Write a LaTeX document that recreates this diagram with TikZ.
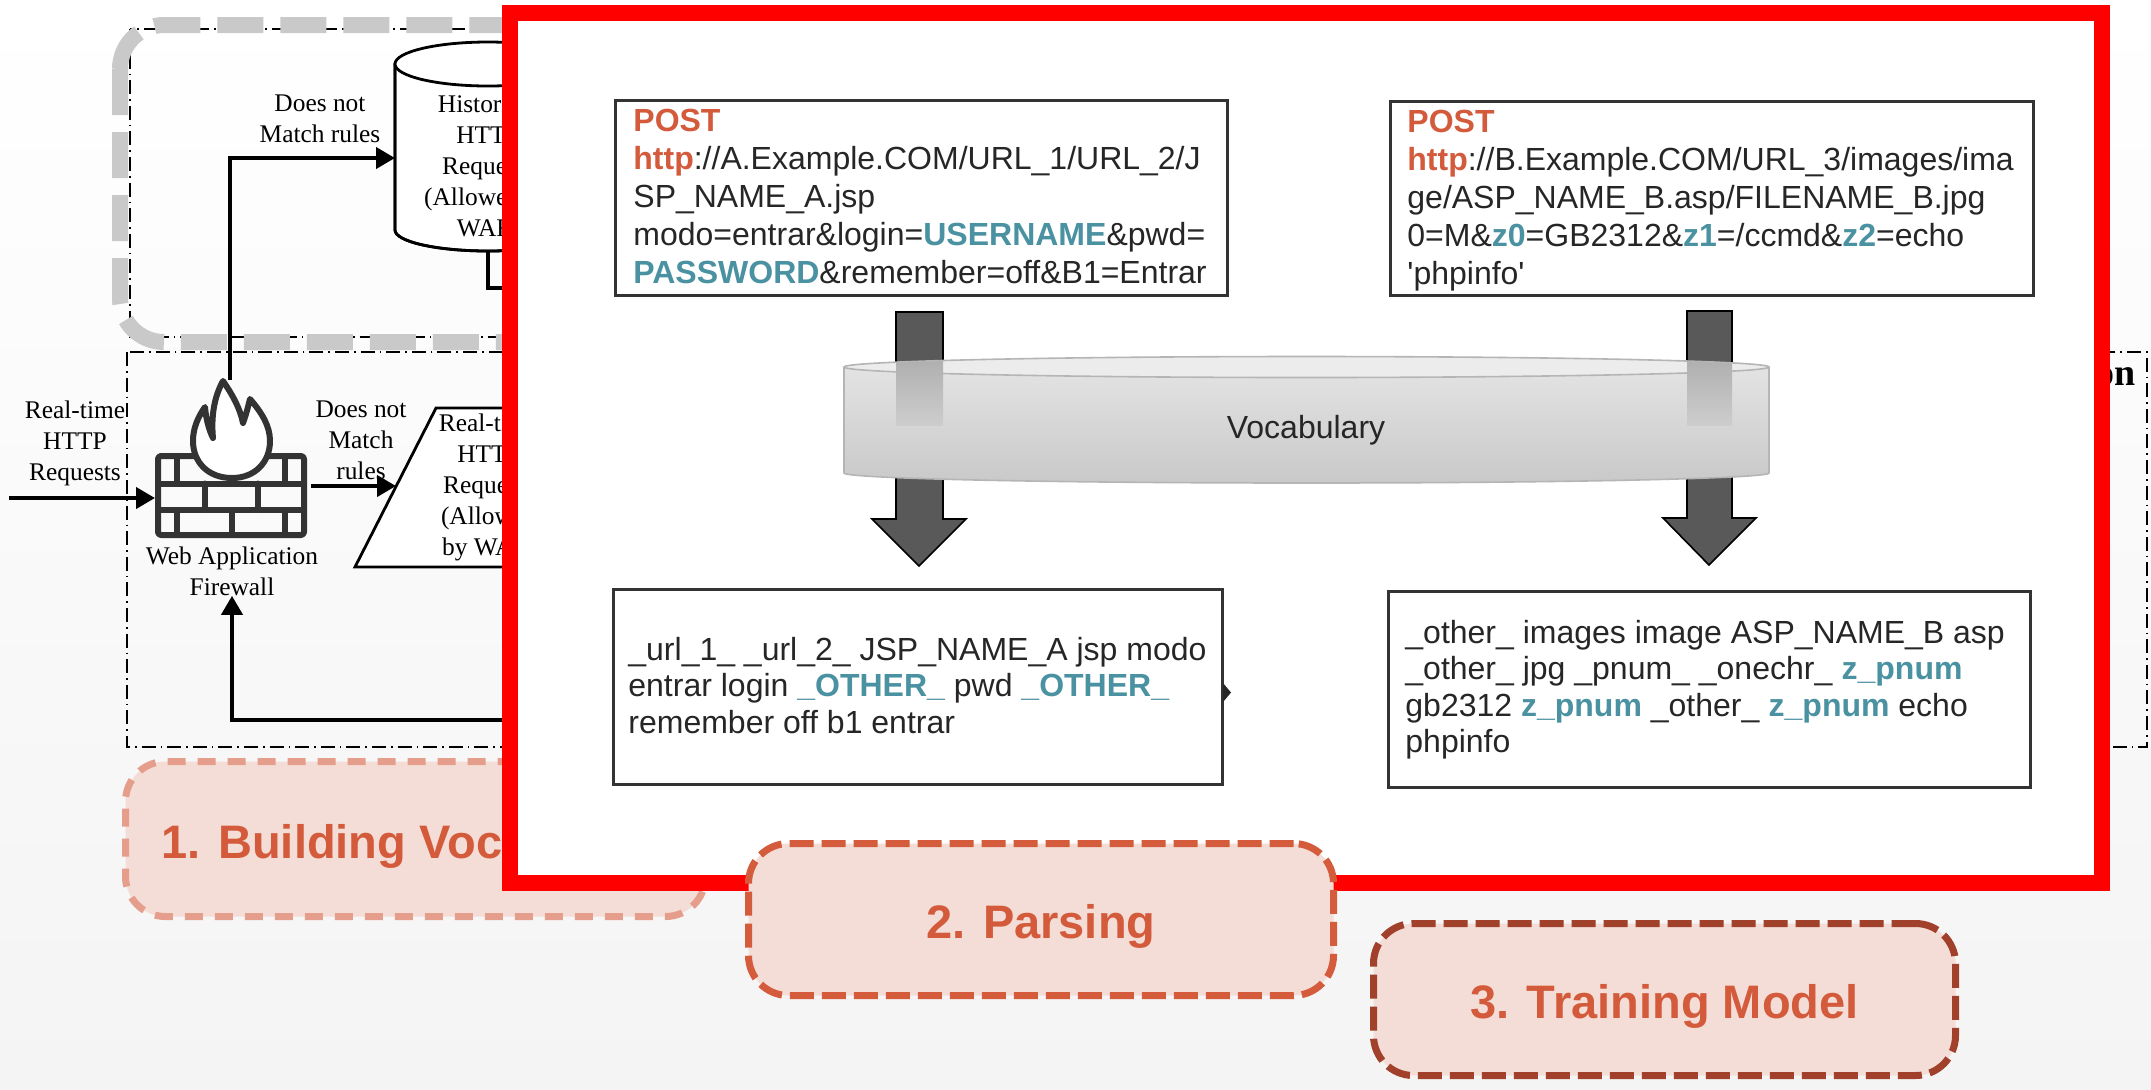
\documentclass[tikz,border=0pt]{standalone}
\usepackage{fontspec}
\setmainfont{Liberation Serif}
\newfontfamily\arialf{Liberation Sans}
\usetikzlibrary{arrows.meta}
\definecolor{bgc}{HTML}{F4F4F4}
\definecolor{graydash}{HTML}{C9C9C9}
\definecolor{fwgray}{HTML}{333333}
\definecolor{boxgray}{HTML}{333333}
\definecolor{txt}{HTML}{262626}
\definecolor{orng}{HTML}{D35B3B}
\definecolor{tealc}{HTML}{4A91A1}
\definecolor{arrowgray}{HTML}{595959}
\definecolor{pinkfill}{HTML}{F4DDD6}
\definecolor{pinkb1}{HTML}{E59E8C}
\definecolor{pinkb2}{HTML}{D45C3C}
\definecolor{pinkb3}{HTML}{A1402B}
\definecolor{cylA}{HTML}{E3E3E3}
\definecolor{cylM}{HTML}{CDCDCD}
\definecolor{cylB}{HTML}{C9C9C9}
\definecolor{cyltop}{HTML}{ECECEC}
\definecolor{cylline}{HTML}{B5B5B5}
\definecolor{ghost}{HTML}{ABABAB}
\newcommand{\hlo}[1]{\textbf{\color{orng}#1}}
\newcommand{\hlt}[1]{\textbf{\color{tealc}#1}}
\newcommand{\sqt}{\XeTeXglyph\XeTeXcharglyph"27\relax}
\tikzset{
  serif/.style={font=\fontsize{12.7}{15.5}\selectfont, align=center, inner sep=0pt},
  flowline/.style={line width=2pt, draw=black},
  flowarrow/.style={flowline, -{Triangle[length=9.5pt,width=10.5pt]}},
  dashdotbox/.style={draw=black, line width=0.6pt, dash pattern=on 7pt off 2.5pt on 0.8pt off 2.5pt},
  shapeline/.style={line width=1.4pt, draw=black, fill=white},
  wall/.style={line width=3pt, draw=fwgray, line cap=round, line join=round},
  textbox/.style={draw=boxgray, line width=1.5pt, fill=white, anchor=north west, inner sep=0pt},
  boxtext/.style={font=\arialf\fontsize{16}{19}\selectfont, text=txt, align=left, inner sep=0pt, anchor=north west},
  boxtextb/.style={font=\arialf\fontsize{16}{18.25}\selectfont, text=txt, align=left, inner sep=0pt, anchor=north west},
  blockarrow/.style={fill=arrowgray, draw=black, line width=0.8pt},
  stagebox/.style={fill=pinkfill, line width=3.5pt, dash pattern=on 12pt off 4pt, rounded corners=20pt,
    font=\arialf\bfseries\fontsize{23.5}{28}\selectfont, text=orng, text height=24pt, text depth=5pt, inner sep=0pt}
}
\begin{document}
\begin{tikzpicture}[x=0.5pt,y=-0.5pt]
\useasboundingbox (0,0) rectangle (2151,1089);
\shade[top color=white, bottom color=bgc] (0,0) rectangle (2151,1089);

% ---------- original figure behind ----------
\draw[dashdotbox] (130,29) rectangle (1500,337);
\draw[graydash, line width=8pt, dash pattern=on 23pt off 8.5pt, rounded corners=22pt] (120,25) rectangle (1500,342);
\draw[dashdotbox] (127,352) rectangle (2147,747);
\node[font=\bfseries\fontsize{19}{22}\selectfont, anchor=base east, inner sep=0pt] (ttl) at (2136,385) {on};

% historical cylinder
\path[shapeline] (395,64) -- (395,230) arc[start angle=180, end angle=0, x radius=93, y radius=21] -- (581,64) -- cycle;
\draw[line width=1.4pt] (395,64) -- (395,230) arc[start angle=180, end angle=0, x radius=93, y radius=21] -- (581,64);
\draw[shapeline] (488,64) ellipse [x radius=93, y radius=22];
\node[serif] (hist) at (488,168) {Historical\\HTTP\\Requests\\(Allowed by\\WAF)};
\coordinate (histW) at (395,158);
\coordinate (histS) at (488,251);

% real-time parallelogram
\draw[shapeline] (436,408) -- (1000,408) -- (920,567) -- (355,567) -- cycle;
\node[serif] (rt) at (489,487) {Real-time\\HTTP\\Requests\\(Allowed\\by WAF)};
\coordinate (rtW) at (396,486);

% firewall icon
\draw[wall, rounded corners=1.5pt] (158,456) rectangle (304,535);
\draw[wall] (158,483.5) -- (304,483.5) (158,510) -- (304,510);
\draw[wall] (177,456) -- (177,483.5) (285,456) -- (285,483.5);
\draw[wall] (204.5,483.5) -- (204.5,510) (258,483.5) -- (258,510);
\draw[wall] (177,510) -- (177,535) (232,510) -- (232,535) (285,510) -- (285,535);
\draw[wall, fill=white] (232,478) .. controls (208,478) and (193,462) .. (193,441)
  .. controls (193,428) and (198,417) .. (205,407)
  .. controls (206,419) and (209,430) .. (213,438)
  .. controls (211,417) and (214,397) .. (223,381)
  .. controls (232,394) and (240,408) .. (243,423)
  .. controls (246,415) and (248,407) .. (250,399)
  .. controls (262,413) and (270,426) .. (270,441)
  .. controls (270,462) and (255,478) .. (232,478) -- cycle;
\node[serif] (fwl) at (232,571) {Web Application\\Firewall};
\coordinate (fwN) at (230,380);
\coordinate (fwW) at (155,498);
\coordinate (fwE) at (311,486);
\coordinate (inL) at (9,498);
\coordinate (hidR) at (560,288);
\coordinate (hidR2) at (560,720);

% connectors
\draw[flowarrow] (fwN) |- (histW);
\node[serif] (lbl1) at (320,119) {Does not\\Match rules};
\draw[flowarrow] (inL) -- (fwW);
\node[serif] (lbl2) at (75,443) {Real-time\\HTTP\\Requests};
\draw[flowarrow] (fwE) -- (rtW);
\node[serif] (lbl3) at (361,440) {Does not\\Match\\rules};
\draw[flowline] (histS) |- (hidR);
\draw[flowarrow] (hidR2) -| (fwl.south);

% stage 1 box (behind red frame)
\node[stagebox, draw=pinkb1, dash pattern=on 9pt off 6pt, minimum width=290pt, minimum height=77.5pt] (s1) at (415.5,839) {1. Building Vocabulary};

% ---------- red highlight frame ----------
\draw[red, line width=8pt, fill=white] (510,12.5) rectangle (2101.5,883);

% request boxes
\node[textbox, minimum width=306pt, minimum height=97.5pt] (boxA) at (613.5,98.5) {};
\node[boxtext] (tA) at (633,108.5) {\hlo{POST}\\\hlo{http}://A.Example.COM/URL\_1/URL\_2/J\\SP\_NAME\_A.jsp\\modo=entrar\&login=\hlt{USERNAME}\&pwd=\\\hlt{PASSWORD}\&remember=off\&B1=Entrar};
\node[textbox, minimum width=321.5pt, minimum height=97pt] (boxB) at (1388.5,99.5) {};
\node[boxtext] (tB) at (1407,109.5) {\hlo{POST}\\\hlo{http}://B.Example.COM/URL\_3/images/ima\\ge/ASP\_NAME\_B.asp/FILENAME\_B.jpg\\0=M\&\hlt{z0}=GB2312\&\hlt{z1}=/ccmd\&\hlt{z2}=echo\\\sqt phpinfo\sqt};

% block arrows
\draw[blockarrow] (896,312) -- (943,312) -- (943,519) -- (966,519) -- (919,566) -- (872,519) -- (896,519) -- cycle;
\draw[blockarrow] (1687,311) -- (1732,311) -- (1732,518) -- (1756,518) -- (1709,565) -- (1663,518) -- (1687,518) -- cycle;

% vocabulary disc
\shade[top color=cylA, middle color=cylM, bottom color=cylB] (844,367) -- (844,473) arc[start angle=180, end angle=0, x radius=462.5, y radius=10] -- (1769,367) arc[start angle=0, end angle=180, x radius=462.5, y radius=10.5] -- cycle;
\draw[cylline, line width=0.8pt] (844,367) -- (844,473) arc[start angle=180, end angle=0, x radius=462.5, y radius=10] -- (1769,367);
\fill[cyltop] (1306.5,367) ellipse [x radius=462.5, y radius=10.5];
\begin{scope}
  \clip (844,367) arc[start angle=180, end angle=360, x radius=462.5, y radius=10.5] -- (1769,473) arc[start angle=0, end angle=180, x radius=462.5, y radius=10] -- cycle;
  \shade[top color=ghost, bottom color=cylM] (896,350) rectangle (943,425);
  \shade[top color=ghost, bottom color=cylM] (1687,350) rectangle (1732,425);
\end{scope}
\draw[cylline, line width=0.8pt] (1306.5,367) ellipse [x radius=462.5, y radius=10.5];
\node[font=\arialf\fontsize{16}{19}\selectfont, text=txt, anchor=base, inner sep=0pt] (voc) at (1306,438) {Vocabulary};

% parsed boxes
\node[textbox, minimum width=304.5pt, minimum height=97.5pt] (boxC) at (611.5,587.5) {};
\node[boxtextb] (tC) at (628,636.7) {\_url\_1\_ \_url\_2\_ JSP\_NAME\_A jsp modo\\entrar login \hlt{\_OTHER\_} pwd \hlt{\_OTHER\_}\\remember off b1 entrar};
\node[textbox, minimum width=321pt, minimum height=98pt] (boxD) at (1386.5,589.5) {};
\node[boxtextb] (tD) at (1405,619.7) {\_other\_ images image ASP\_NAME\_B asp\\\_other\_ jpg \_pnum\_ \_onechr\_ \hlt{z\_pnum}\\gb2312 \hlt{z\_pnum} \_other\_ \hlt{z\_pnum} echo\\phpinfo};
\fill[txt] (1223,683) -- (1231,692.5) -- (1223,702) -- cycle;

% stage boxes 2 and 3
\node[stagebox, draw=pinkb2, minimum width=292.5pt, minimum height=76pt] (s2) at (1041,919.5) {2. Parsing};
\node[stagebox, draw=pinkb3, minimum width=291pt, minimum height=76pt] (s3) at (1664.5,999.5) {3. Training Model};
\end{tikzpicture}
\end{document}
